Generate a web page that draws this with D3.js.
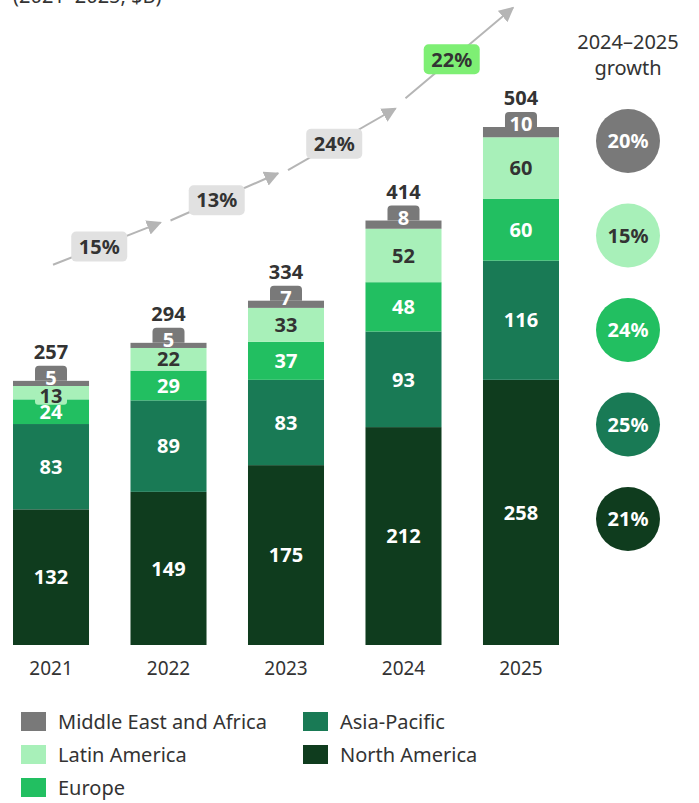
<!DOCTYPE html>
<html>
<head>
<meta charset="utf-8">
<script src="https://cdn.jsdelivr.net/npm/d3@7"></script>
<style>
  body { margin: 0; background: #fff; }
  svg { display: block; font-family: "Noto Sans", sans-serif; }
</style>
</head>
<body>
<div id="chart"></div>
<script>
const years = ["2021", "2022", "2023", "2024", "2025"]
const totals = [257, 294, 334, 414, 504]
const northAmerica = [132, 149, 175, 212, 258]
const asiaPacific = [83, 89, 83, 93, 116]
const europe = [24, 29, 37, 48, 60]
const latinAmerica = [13, 22, 33, 52, 60]
const middleEast = [5, 5, 7, 8, 10]

// year-over-year growth shown along the arrows
const yoyGrowth = ["15%", "13%", "24%", "22%"]
// arrow start / end heights, in chart units ($B)
const arrowFrom = [370, 413, 462, 532]
const arrowTo = [411, 459, 522, 620]

// 2024-2025 growth by region (top to bottom)
const growthKeys = ["mea", "latam", "europe", "apac", "na"]
const growthValues = ["20%", "15%", "24%", "25%", "21%"]

const stackKeys = ["na", "apac", "europe", "latam", "mea"]
const codebook = {
  mea: { label: "Middle East and Africa", color: "#797979", text: "#fff" },
  latam: { label: "Latin America", color: "#a8f0b9", text: "#333" },
  europe: { label: "Europe", color: "#22bf61", text: "#fff" },
  apac: { label: "Asia-Pacific", color: "#197a55", text: "#fff" },
  na: { label: "North America", color: "#0f3c1e", text: "#fff" },
}
const legendOrder = ["mea", "latam", "europe", "apac", "na"]

const width = 699
const height = 803
const boldSize = "20px"

const rows = years.map((y, i) => ({
  year: y,
  total: totals[i],
  na: northAmerica[i],
  apac: asiaPacific[i],
  europe: europe[i],
  latam: latinAmerica[i],
  mea: middleEast[i],
}))

const svg = d3.select("#chart").append("svg")
  .attr("width", width)
  .attr("height", height)

const x = d3.scaleBand().domain(years).range([13, 559]).paddingInner(0.353)
const y = d3.scaleLinear().domain([0, 504]).range([645, 127])

// cut-off subtitle at the very top
svg.append("text")
  .attr("x", 13).attr("y", 3)
  .text("(2021–2025, $B)")
  .style("font-size", "20px").style("fill", "#333")

const stack = d3.stack().keys(stackKeys)(rows)

const layers = svg.append("g").selectAll("g")
  .data(stack)
  .join("g")
  .attr("fill", d => codebook[d.key].color)

layers.selectAll("rect")
  .data(d => d)
  .join("rect")
  .attr("x", d => x(d.data.year))
  .attr("width", x.bandwidth())
  .attr("y", d => y(d[1]))
  .attr("height", d => y(d[0]) - y(d[1]))

// segment labels (not MEA, that one gets a tab)
stack.filter(s => s.key !== "mea").forEach(s => {
  const c = codebook[s.key]
  s.forEach(d => {
    const cx = x(d.data.year) + x.bandwidth() / 2
    let cy = (y(d[0]) + y(d[1])) / 2
    if (y(d[0]) - y(d[1]) < 18) {
      cy += 3
      svg.append("rect")
        .attr("x", cx - 16).attr("y", cy - 9)
        .attr("width", 32).attr("height", 18)
        .attr("rx", 3)
        .attr("fill", c.color)
    }
    svg.append("text")
      .attr("x", cx).attr("y", cy)
      .attr("dy", "0.36em")
      .attr("text-anchor", "middle")
      .text(d[1] - d[0])
      .style("font-size", boldSize).style("font-weight", "700")
      .style("fill", c.text)
  })
})

// MEA tabs + totals
const meaLayer = stack.find(s => s.key === "mea")
meaLayer.forEach((d, i) => {
  const cx = x(d.data.year) + x.bandwidth() / 2
  const top = y(d[1])
  const tabTop = top - 15
  svg.append("path")
    .attr("d", `M${cx - 16},${top} V${tabTop + 4} Q${cx - 16},${tabTop} ${cx - 12},${tabTop} H${cx + 12} Q${cx + 16},${tabTop} ${cx + 16},${tabTop + 4} V${top} Z`)
    .attr("fill", codebook.mea.color)
  svg.append("text")
    .attr("x", cx).attr("y", top - 3)
    .attr("dy", "0.36em")
    .attr("text-anchor", "middle")
    .text(d[1] - d[0])
    .style("font-size", boldSize).style("font-weight", "700")
    .style("fill", "#fff")
  svg.append("text")
    .attr("x", cx).attr("y", tabTop - 14)
    .attr("dy", "0.36em")
    .attr("text-anchor", "middle")
    .text(totals[i])
    .style("font-size", boldSize).style("font-weight", "700")
    .style("fill", "#333")
})

// x axis labels
const xAxis = d3.axisBottom(x).tickSize(0).tickPadding(0)
svg.append("g")
  .attr("transform", "translate(0,645)")
  .call(xAxis)
  .call(g => g.select(".domain").remove())
  .selectAll("text")
  .attr("y", 23)
  .attr("dy", "0.36em")
  .style("font-size", "19px")
  .style("font-family", "Noto Sans, sans-serif")
  .style("fill", "#333")

// growth arrows
const defs = svg.append("defs")
defs.append("marker")
  .attr("id", "head")
  .attr("viewBox", "0 0 10 10")
  .attr("refX", 9).attr("refY", 5)
  .attr("markerWidth", 7.5).attr("markerHeight", 7.5)
  .attr("markerUnits", "strokeWidth")
  .attr("orient", "auto")
  .append("path")
  .attr("d", "M0,0 L10,5 L0,10 Z")
  .attr("fill", "#b5b5b5")

yoyGrowth.forEach((g, i) => {
  const x1 = x(years[i]) + x.bandwidth() / 2 + 2
  const x2 = x(years[i + 1]) + x.bandwidth() / 2 - 8
  const y1 = y(arrowFrom[i])
  const y2 = y(arrowTo[i])
  svg.append("line")
    .attr("x1", x1).attr("y1", y1)
    .attr("x2", x2).attr("y2", y2)
    .attr("stroke", "#b5b5b5")
    .attr("stroke-width", 2)
    .attr("marker-end", "url(#head)")
  const mx = x1 + (x2 - x1) * 0.43
  const my = y1 + (y2 - y1) * 0.43
  svg.append("rect")
    .attr("x", mx - 28).attr("y", my - 15)
    .attr("width", 56).attr("height", 30)
    .attr("rx", 5)
    .attr("fill", i === 3 ? "#7eef74" : "#e1e1e1")
  svg.append("text")
    .attr("x", mx).attr("y", my)
    .attr("dy", "0.36em")
    .attr("text-anchor", "middle")
    .text(g)
    .style("font-size", boldSize).style("font-weight", "700")
    .style("fill", "#333")
})

// 2024-2025 growth column
const gy = d3.scalePoint().domain(growthKeys).range([141, 519])
const gx = 628
svg.append("text")
  .attr("x", gx).attr("y", 42)
  .attr("dy", "0.36em")
  .attr("text-anchor", "middle")
  .text("2024–2025")
  .style("font-size", "20px").style("fill", "#333")
svg.append("text")
  .attr("x", gx).attr("y", 68)
  .attr("dy", "0.36em")
  .attr("text-anchor", "middle")
  .text("growth")
  .style("font-size", "20px").style("fill", "#333")

const circ = svg.append("g").selectAll("g")
  .data(growthKeys)
  .join("g")
  .attr("transform", d => `translate(${gx},${gy(d)})`)
circ.append("circle")
  .attr("r", 32)
  .attr("fill", d => codebook[d].color)
circ.append("text")
  .attr("text-anchor", "middle")
  .attr("dy", "0.36em")
  .text((d, i) => growthValues[i])
  .style("font-size", boldSize).style("font-weight", "700")
  .style("fill", d => codebook[d].text)

// legend
const legend = svg.append("g").selectAll("g")
  .data(legendOrder)
  .join("g")
  .attr("transform", (d, i) => {
    const col = i < 3 ? 0 : 1
    const row = i < 3 ? i : i - 3
    return `translate(${21 + col * 282},${712 + row * 33})`
  })
legend.append("rect")
  .attr("width", 25).attr("height", 19)
  .attr("fill", d => codebook[d].color)
legend.append("text")
  .attr("x", 37).attr("y", 10)
  .attr("dy", "0.36em")
  .text(d => codebook[d].label)
  .style("font-size", "20px").style("fill", "#333")
</script>
</body>
</html>
